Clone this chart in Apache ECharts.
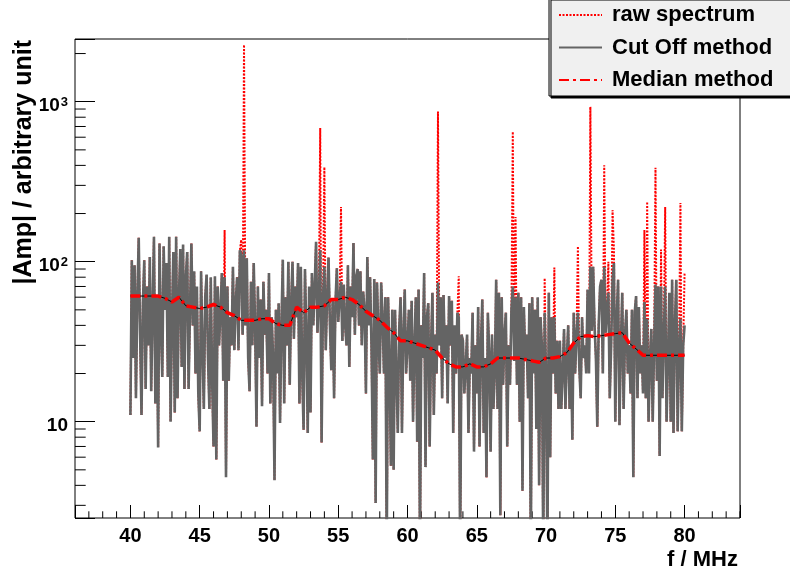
<!DOCTYPE html>
<html>
<head>
<meta charset="utf-8">
<script src="https://cdn.jsdelivr.net/npm/echarts@6/dist/echarts.min.js"></script>
<style>
html, body { margin: 0; padding: 0; background: #fff; }
#chart { width: 790px; height: 576px; }
</style>
</head>
<body>
<div id="chart"></div>
<script>
// spectrum samples, 40.0 .. 80.0 MHz every 0.1 MHz (one row per MHz)
const freqStart = 40
const freqStep = 0.1
const cutOff = [
  11, 102, 25, 95, 14, 60, 141, 35, 11, 55,
  102, 16, 70, 30, 107, 15.5, 50, 143, 13, 60,
  6.9, 130, 40, 19, 125, 50, 98, 19, 143, 10,
  45, 115, 11.4, 143, 14, 60, 120, 22, 128, 16,
  80, 115, 16, 50, 130, 40, 87, 20, 70, 15,
  8.7, 87, 30, 12, 60, 83, 25, 12, 80, 18,
  7, 81, 5.8, 70, 30, 50, 85, 18, 80, 4.5,
  70, 18, 45, 30, 93, 28, 55, 80, 28, 118,
  110, 35, 118, 40, 105, 25, 15.5, 75, 30, 98,
  40, 9.3, 70, 25, 58, 12.5, 75, 35, 50, 20,
  85, 13, 45, 25, 4.3, 50, 20, 55, 9.8, 40,
  103, 13, 60, 30, 100, 17, 55, 100, 33, 70,
  45, 98, 13, 93, 20, 8.9, 90, 35, 8.5, 70,
  11.4, 85, 40, 70, 133, 36, 60, 118, 7.4, 60,
  93, 28, 60, 106, 40, 21, 58, 14, 55, 91,
  42, 60, 75, 32, 72, 40, 30, 95, 22, 70,
  45, 131, 35, 80, 90, 40, 87, 30, 65, 50,
  15, 107, 40, 80, 30, 5.8, 78, 3.1, 74, 35,
  20, 74, 45, 20, 60, 1.5, 60, 25, 5.3, 50,
  5, 50, 20, 8.5, 38, 60, 8.5, 35, 67, 20,
  30, 50, 18, 57, 10, 30, 60, 7.5, 67, 1.5,
  40, 25, 85, 5.2, 45, 55, 7, 30, 64, 11,
  35, 20, 74, 30, 60, 14, 62, 25, 40, 13,
  61, 30, 57, 8.5, 40, 20, 48, 45, 1.5, 35,
  32, 15, 22, 35, 8.5, 25, 20, 48, 6.5, 30,
  15, 52, 7, 30, 58, 8.5, 25, 4.5, 48, 27,
  6.5, 35, 12, 20, 77, 12, 64, 2.6, 60, 17,
  35, 48, 7, 30, 17, 50, 70, 24, 60, 17,
  64, 10, 60, 3.7, 52, 25, 35, 14, 55, 1.5,
  60, 20, 50, 9, 60, 4, 45, 30, 1.5, 48,
  20, 1.5, 64, 6, 45, 20, 45, 15, 32, 12,
  32, 12, 20, 38, 12, 25, 40, 12, 30, 7.7,
  48, 20, 35, 48, 22, 14, 45, 25, 30, 20,
  67, 20, 93, 37, 93, 40, 25, 9.3, 40, 70,
  77, 20, 93, 36, 50, 64, 14, 30, 77, 98,
  10, 45, 77, 9.5, 30, 64, 12, 35, 50, 20,
  30, 15, 50, 4.5, 48, 61, 14, 52, 20, 30,
  15, 56, 14, 44, 10, 25, 38, 10, 30, 72,
  18, 70, 6.1, 70, 14, 35, 70, 10, 25, 64,
  10, 77, 8.5, 40, 77, 8.7, 30, 44, 8.7, 30,
  40
]
// raw spectrum = cut off spectrum plus these lines [MHz, amp]
const rawPeaks = [
  [46.8, 158], [48.0, 137], [48.2, 2270], [53.7, 686], [54.0, 390], [55.2, 220],
  [62.2, 870], [63.7, 81], [67.6, 650], [67.8, 190], [69.9, 79], [70.6, 92],
  [72.3, 125], [73.2, 930], [74.2, 400], [74.5, 100], [74.8, 210], [74.9, 119],
  [77.1, 158], [77.3, 237], [77.9, 386], [78.3, 119], [78.6, 220], [79.7, 233],
  [80.0, 85]
]
// median baseline, 40.0 .. 80.0 MHz every 0.5 MHz
const medianStep = 0.5
const median = [
  61, 61, 61, 61, 61, 59, 56, 60, 53, 52,
  51, 52, 54, 52, 48, 46, 43, 43, 43, 44,
  44, 41, 40, 40, 52, 48, 52, 52, 53, 58,
  58, 60, 58, 54, 49, 46, 43, 39, 36, 32,
  32, 31, 30, 29, 28, 25, 23, 22, 22, 23,
  22, 22, 23, 25, 25, 25, 25, 24.5, 24, 23.5,
  25, 25, 25.5, 27, 31, 34, 34.5, 34, 34.5, 35,
  35.5, 36, 31, 28.5, 26, 26, 26, 26, 26, 26,
  26
]
const xMinorTicks = [37, 38, 39, 41, 42, 43, 44, 46, 47, 48, 49, 51, 52, 53, 54, 56, 57, 58, 59,
  61, 62, 63, 64, 66, 67, 68, 69, 71, 72, 73, 74, 76, 77, 78, 79, 81, 82, 83, 84]
const yMinorTicks = [3, 4, 5, 6, 7, 8, 9, 20, 30, 40, 50, 60, 70, 80, 90,
  200, 300, 400, 500, 600, 700, 800, 900, 2000]

const X_MIN = 36, X_MAX = 84, Y_MIN = 2.5, Y_MAX = 2466
const FONT = '"Liberation Sans", Arial, sans-serif'

const toFreq = (i, step) => Math.round((freqStart + i * step) * 10) / 10
const cutData = cutOff.map((v, i) => [toFreq(i, freqStep), v])
const rawData = cutData.map(p => p.slice())
rawPeaks.forEach(([f, v]) => { rawData[Math.round((f - freqStart) / freqStep)][1] = v })
const medianData = median.map((v, i) => [toFreq(i, medianStep), v])

function tickItem(dx, dy) {
  return function(params, api) {
    const p = api.coord([api.value(0), api.value(1)])
    return {
      type: 'line',
      shape: { x1: p[0], y1: p[1], x2: p[0] + dx, y2: p[1] + dy },
      style: { stroke: '#000', lineWidth: 1 }
    }
  }
}

const chart = echarts.init(document.getElementById('chart'), null, { renderer: 'canvas' })
chart.setOption({
  animation: false,
  backgroundColor: '#fff',
  textStyle: { fontFamily: FONT },
  grid: {
    left: 75, top: 39, right: 50, bottom: 58,
    show: true, borderColor: '#000', borderWidth: 1, backgroundColor: 'transparent'
  },
  legend: {
    orient: 'vertical',
    left: 549, top: -2,
    padding: [6, 30, 5, 9],
    itemWidth: 43, itemHeight: 14, itemGap: 10.5,
    backgroundColor: '#f0f0f0',
    borderColor: '#000', borderWidth: 1,
    shadowColor: '#000', shadowOffsetX: 2, shadowOffsetY: 2, shadowBlur: 0,
    itemStyle: { opacity: 0 },
    data: ['raw spectrum', 'Cut Off method', 'Median method'],
    textStyle: { fontFamily: FONT, fontWeight: 'bold', fontSize: 22, lineHeight: 22, color: '#000', padding: [0, 0, 0, 5] }
  },
  xAxis: {
    type: 'value', min: X_MIN, max: X_MAX, splitNumber: 10,
    name: 'f / MHz', nameLocation: 'end', nameGap: 0,
    nameTextStyle: { fontFamily: FONT, fontWeight: 'bold', fontSize: 22, color: '#000', align: 'right', verticalAlign: 'top', padding: [31, 2, 0, 0] },
    axisLine: { show: false },
    axisTick: { inside: true, length: 13, lineStyle: { color: '#000' } },
    splitLine: { show: false },
    axisLabel: {
      margin: 8, color: '#000', fontFamily: FONT, fontWeight: 'bold', fontSize: 20,
      formatter: v => (v % 5 === 0 ? String(v) : '')
    }
  },
  yAxis: {
    type: 'log', logBase: 10, min: Y_MIN, max: Y_MAX,
    axisLine: { show: false },
    axisTick: { inside: true, length: 20, lineStyle: { color: '#000' } },
    splitLine: { show: false },
    axisLabel: {
      margin: 7, color: '#000', padding: [9, 0, 0, 0],
      formatter: v => {
        const l = Math.log10(v), e = Math.round(l)
        if (Math.abs(l - e) > 1e-6) return ''
        return e === 1 ? '{b|10}' : '{b|10}{s|' + e + '}'
      },
      rich: {
        b: { fontFamily: FONT, fontWeight: 'bold', fontSize: 19, lineHeight: 20, color: '#000' },
        s: { fontFamily: FONT, fontWeight: 'bold', fontSize: 13, lineHeight: 20, color: '#000', verticalAlign: 'top', padding: [0, 0, 0, 1] }
      }
    }
  },
  graphic: [{
    type: 'text', x: 24, y: 40, rotation: Math.PI / 2,
    style: {
      text: '|Amp| / arbitrary unit', fill: '#000',
      font: 'bold 25px ' + FONT, align: 'right', verticalAlign: 'middle'
    }
  }],
  series: [
    {
      name: 'raw spectrum', type: 'line', data: rawData, symbol: 'none',
      lineStyle: { color: '#ff0000', width: 2, type: [2, 1.5] },
      itemStyle: { color: '#ff0000' }
    },
    {
      name: 'Cut Off method', type: 'line', data: cutData, symbol: 'none',
      lineStyle: { color: '#646464', width: 2.6 },
      itemStyle: { color: '#646464' }
    },
    {
      name: 'median-trace', type: 'line', data: medianData, symbol: 'none',
      lineStyle: { color: '#000', width: 1 }, silent: true
    },
    {
      name: 'Median method', type: 'line', data: medianData, symbol: 'none',
      lineStyle: { color: '#ff0000', width: 3.5, type: [10, 4, 3, 4] },
      itemStyle: { color: '#ff0000' }
    },
    {
      type: 'custom', renderItem: tickItem(10.7, 0), silent: true, clip: false,
      data: yMinorTicks.map(v => [X_MIN, v])
    },
    {
      type: 'custom', renderItem: tickItem(0, -6.7), silent: true, clip: false,
      data: xMinorTicks.map(v => [v, Y_MIN])
    }
  ]
})
</script>
</body>
</html>
